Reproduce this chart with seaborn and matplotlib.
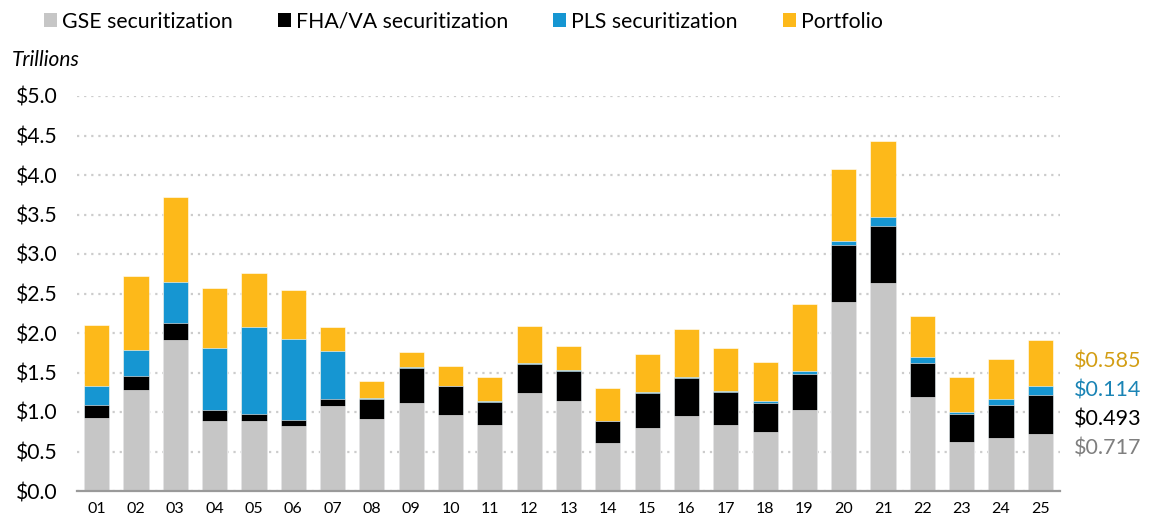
import numpy as np
import pandas as pd
import matplotlib
matplotlib.use("Agg")
import matplotlib.pyplot as plt
from matplotlib.patches import Patch
import seaborn as sns

# data, trillions of dollars
years = ["01", "02", "03", "04", "05", "06", "07", "08", "09", "10", "11", "12", "13",
         "14", "15", "16", "17", "18", "19", "20", "21", "22", "23", "24", "25"]
gse = [0.92, 1.28, 1.91, 0.89, 0.88, 0.82, 1.07, 0.91, 1.11, 0.96, 0.84, 1.24, 1.14,
       0.61, 0.80, 0.95, 0.83, 0.75, 1.02, 2.39, 2.63, 1.19, 0.62, 0.67, 0.717]
fha = [0.17, 0.17, 0.22, 0.13, 0.09, 0.08, 0.09, 0.26, 0.45, 0.37, 0.29, 0.37, 0.38,
       0.27, 0.44, 0.48, 0.42, 0.36, 0.46, 0.73, 0.73, 0.43, 0.35, 0.42, 0.493]
pls = [0.24, 0.33, 0.52, 0.79, 1.11, 1.03, 0.61, 0.01, 0.005, 0.005, 0.005, 0.005, 0.01,
       0.005, 0.01, 0.01, 0.02, 0.03, 0.04, 0.05, 0.11, 0.07, 0.03, 0.08, 0.114]
portfolio = [0.77, 0.94, 1.07, 0.76, 0.68, 0.62, 0.31, 0.21, 0.20, 0.25, 0.31, 0.47, 0.30,
             0.42, 0.49, 0.61, 0.54, 0.49, 0.85, 0.91, 0.96, 0.53, 0.44, 0.50, 0.585]
series = ["GSE securitization", "FHA/VA securitization", "PLS securitization", "Portfolio"]
colors = ["#C6C6C6", "#000000", "#1696D2", "#FDB91A"]
label_colors = ["#7F7F7F", "#000000", "#1A84B5", "#D39E14"]

df = pd.DataFrame({"year": years, "gse": gse, "fha": fha, "pls": pls, "port": portfolio})
df["c1"] = df["gse"]
df["c2"] = df["c1"] + df["fha"]
df["c3"] = df["c2"] + df["pls"]
df["c4"] = df["c3"] + df["port"]

plt.rcParams["font.family"] = ["Lato", "DejaVu Sans"]

fig = plt.figure(figsize=(11.54, 5.21), dpi=100)
ax = fig.add_axes([77 / 1154, 1 - 491 / 521, 983 / 1154, 395 / 521])

# stacked bars by overlaying cumulative totals, tallest first
for col, c in zip(["c4", "c3", "c2", "c1"], colors[::-1]):
    sns.barplot(data=df, x="year", y=col, color=c, width=0.64, ax=ax,
                edgecolor="white", linewidth=0.4, saturation=1, zorder=3)

ax.set_xlim(-0.5, 24.5)
ax.set_ylim(0, 5.0)
ax.set_yticks(np.arange(0, 5.01, 0.5))
ax.set_yticklabels([f"${v:.1f}" for v in np.arange(0, 5.01, 0.5)], fontsize=15.2)
ax.tick_params(axis="y", length=0, pad=14)
ax.tick_params(axis="x", length=0, pad=8, labelsize=11.5)
ax.set_xlabel("")
ax.set_ylabel("")
ax.grid(axis="y", color="#CCCCCC", linestyle=(0, (1, 2.2)), linewidth=1.6, zorder=0)
ax.set_axisbelow(True)
for s in ["left", "right", "top"]:
    ax.spines[s].set_visible(False)
ax.spines["bottom"].set_color("#9A9A9A")
ax.spines["bottom"].set_linewidth(1.6)
ax.spines["bottom"].set_zorder(4)

# latest-year values on the right
last_vals = [gse[-1], fha[-1], pls[-1], portfolio[-1]]
label_y = [0.54, 0.90, 1.27, 1.64]
for v, ly, lc in zip(last_vals, label_y, label_colors):
    ax.text(24.86, ly, f"${v:.3f}", color=lc, fontsize=15.5, ha="left", va="center",
            clip_on=False)

fig.text(12 / 1154, 1 - 60 / 521, "Trillions", fontsize=15, style="italic",
         ha="left", va="center")

handles = [Patch(facecolor=c, edgecolor="none") for c in colors]
fig.legend(handles, series, loc="upper left", bbox_to_anchor=(0.025, 1.006), ncol=4,
           frameon=False, fontsize=15.3, handlelength=0.62, handleheight=0.62,
           handletextpad=0.25, columnspacing=2.1, borderaxespad=0.3)

fig.savefig("out.png", dpi=100)
